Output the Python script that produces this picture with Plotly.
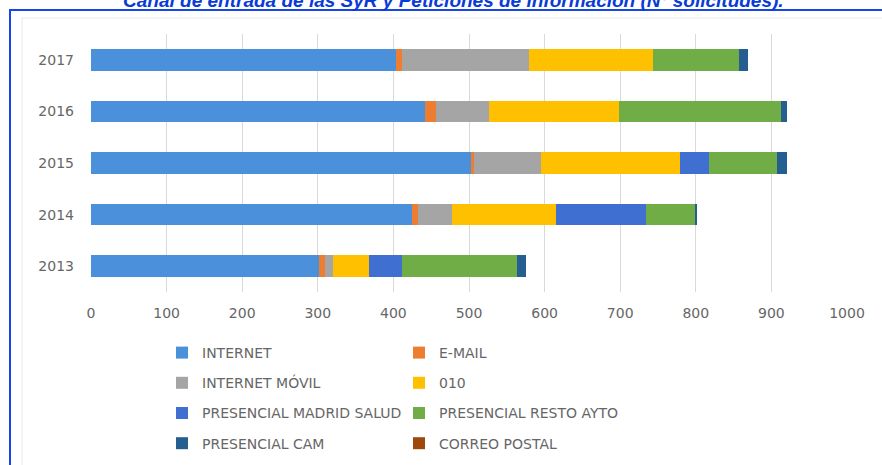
import plotly.graph_objects as go

years = ["2013", "2014", "2015", "2016", "2017"]
series_names = ["INTERNET", "E-MAIL", "INTERNET MÓVIL", "010",
                "PRESENCIAL MADRID SALUD", "PRESENCIAL RESTO AYTO",
                "PRESENCIAL CAM", "CORREO POSTAL"]
internet = [301, 425, 502, 442, 403]
email = [9, 8, 5, 14, 9]
internet_movil = [10, 45, 88, 70, 168]
tel_010 = [48, 137, 184, 172, 163]
madrid_salud = [44, 119, 38, 0, 0]
resto_ayto = [152, 65, 90, 215, 114]
cam = [11, 3, 14, 7, 12]
correo_postal = [0, 0, 0, 0, 0]
x_ticks = [0, 100, 200, 300, 400, 500, 600, 700, 800, 900, 1000]

values = [internet, email, internet_movil, tel_010, madrid_salud,
          resto_ayto, cam, correo_postal]
colors = ["#4A90DA", "#ED7D31", "#A5A5A5", "#FFC000", "#3F6FD0",
          "#70AD47", "#255E91", "#9E480E"]
legend_of = ["legend", "legend2", "legend", "legend2",
             "legend", "legend2", "legend", "legend2"]

W, H = 882, 465
L, R, T, B = 91, 847, 34, 292

fig = go.Figure()
for name, vals, col, lg in zip(series_names, values, colors, legend_of):
    fig.add_trace(go.Bar(
        y=years, x=vals, name=name, orientation="h",
        marker=dict(color=col, line=dict(width=0)),
        legend=lg, legendgroup=name,
    ))

def px2paper_x(px):
    return (px - L) / (R - L)

def px2paper_y(py):
    return (B - py) / (B - T)

def frame_path(x_left, y_top, x_right, y_bottom):
    return (f"M {px2paper_x(x_left)},{px2paper_y(y_bottom)} "
            f"L {px2paper_x(x_left)},{px2paper_y(y_top)} "
            f"L {px2paper_x(x_right)},{px2paper_y(y_top)}")

font_fam = "'DejaVu Sans', Verdana, sans-serif"
legend_common = dict(
    orientation="v", traceorder="grouped", tracegroupgap=9,
    font=dict(family=font_fam, size=14, color="#666666"),
    bgcolor="rgba(0,0,0,0)", itemwidth=30,
    xref="paper", yref="paper", xanchor="left", yanchor="top",
)

fig.update_layout(
    width=W, height=H,
    margin=dict(l=L, r=W - R, t=T, b=H - B, autoexpand=False),
    paper_bgcolor="white", plot_bgcolor="white",
    barmode="stack", bargap=0.58,
    showlegend=True,
    title=dict(
        text="Canal de entrada de las SyR y Peticiones de información (Nº solicitudes).",
        x=0.514, xref="container", xanchor="center",
        y=1.0, yref="container", yanchor="middle",
        font=dict(family="'Liberation Sans', Arial, sans-serif", size=19,
                  color="#0A3BD6", weight="bold", style="italic"),
        pad=dict(t=0, b=0),
    ),
    xaxis=dict(
        range=[0, 1000], tickvals=x_ticks, ticktext=[str(v) for v in x_ticks],
        showgrid=True, gridcolor="#D9D9D9", gridwidth=1,
        zeroline=False, showline=False, ticks="",
        tickfont=dict(family=font_fam, size=14, color="#666666"),
        ticklabelstandoff=11, fixedrange=True, tickangle=0,
    ),
    yaxis=dict(
        categoryorder="array", categoryarray=years,
        showgrid=False, zeroline=False, showline=False, ticks="",
        tickfont=dict(family=font_fam, size=14, color="#666666"),
        ticklabelstandoff=16, fixedrange=True,
    ),
    legend=dict(x=px2paper_x(162), y=px2paper_y(337), **legend_common),
    legend2=dict(x=px2paper_x(399), y=px2paper_y(337), **legend_common),
    shapes=[
        dict(type="path", xref="paper", yref="paper",
             path=frame_path(22, 18, 900, 500),
             line=dict(color="#E8E8E8", width=1), layer="below"),
        dict(type="path", xref="paper", yref="paper",
             path=frame_path(10, 10, 920, 520),
             line=dict(color="#1646E8", width=2)),
    ],
)

fig.write_html("out.html", config={"displayModeBar": False},
               post_script="document.body.style.margin='0';")
